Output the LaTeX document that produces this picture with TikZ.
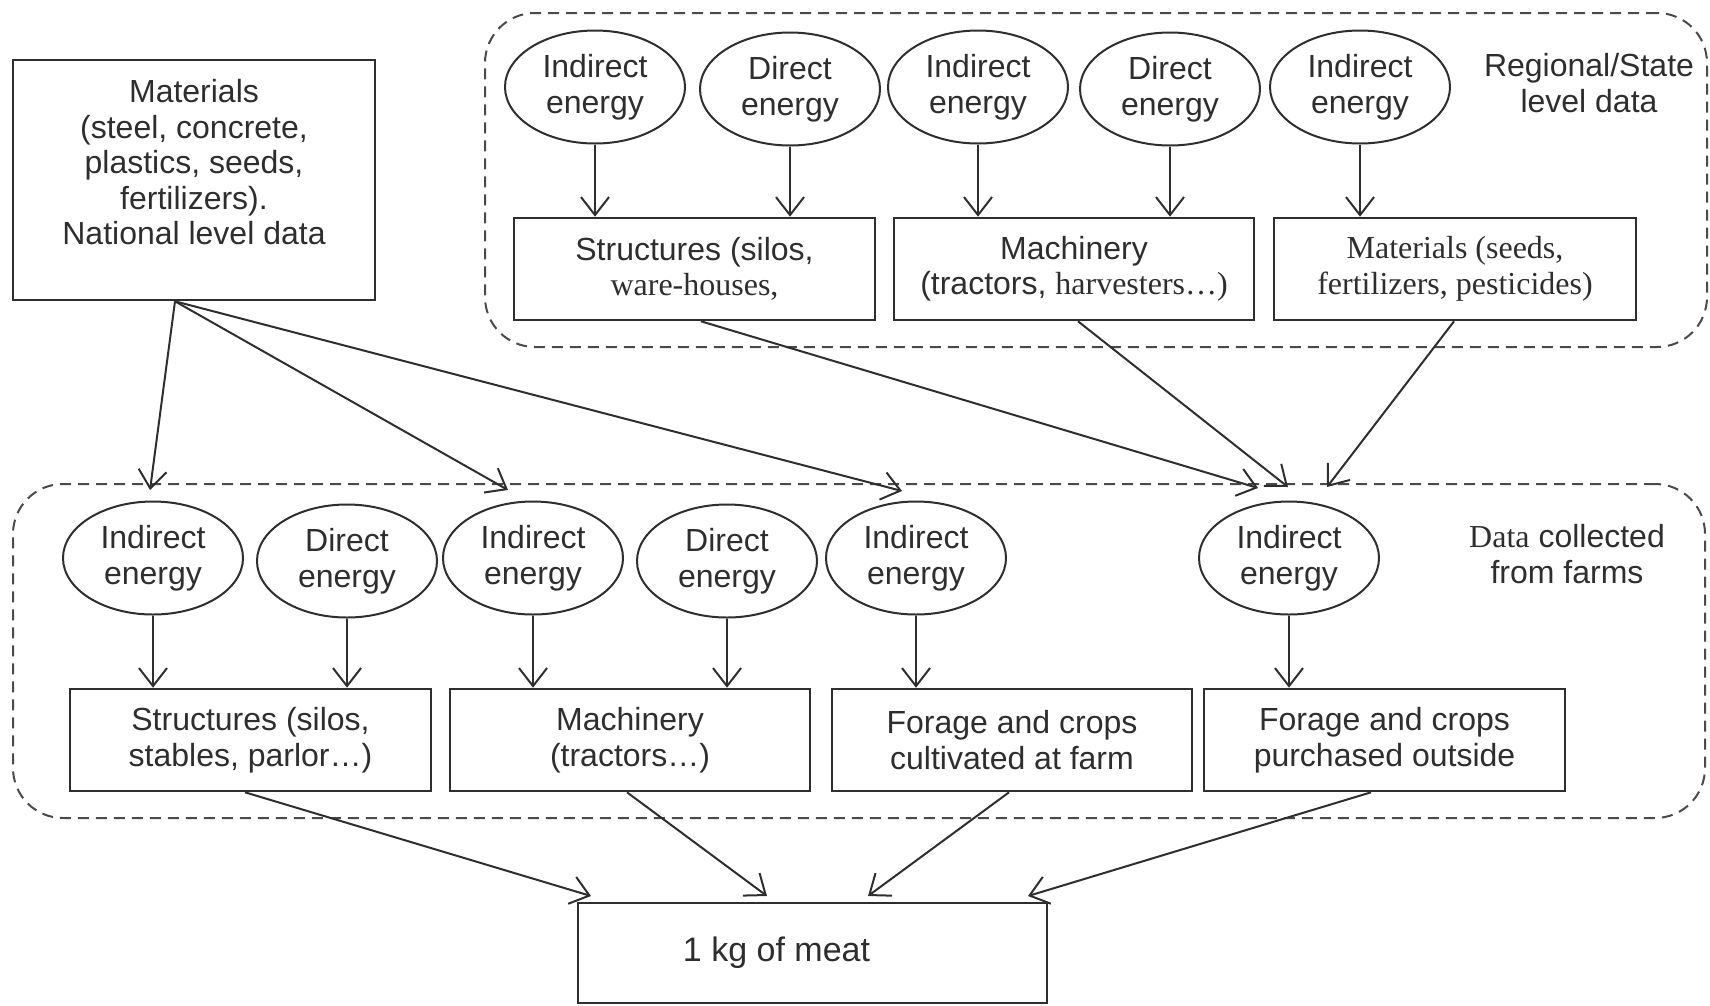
\documentclass[tikz,border=0pt]{standalone}
\usepackage{fontspec}
\setmainfont{Liberation Sans}
\newfontfamily\tnr{Liberation Serif}
\usetikzlibrary{shapes.geometric,arrows.meta}
\definecolor{ink}{HTML}{2E2E2E}
\definecolor{dashc}{HTML}{4A4A4A}
\tikzset{
  base/.style={font=\fontsize{32}{35.5}\selectfont, text=ink},
  energy/.style={base, draw=ink, line width=2pt, ellipse, minimum width=180pt, minimum height=113pt, inner sep=0pt, align=center},
  boxn/.style={base, draw=ink, line width=2.6pt, rectangle, inner sep=0pt, align=center},
  region/.style={draw=dashc, line width=2pt, dash pattern=on 11pt off 7pt, rounded corners=50pt, rectangle, inner sep=0pt},
  arr/.style={draw=ink, line width=2pt, -{Straight Barb[length=18pt,width=28pt]}},
  lbl/.style={base, align=center, inner sep=0pt}
}
\begin{document}
\begin{tikzpicture}[x=1pt,y=-1pt]
\useasboundingbox (0,0) rectangle (1710,1005);
% regions
\node[region, minimum width=1222pt, minimum height=334pt] (topreg) at (1096,180) {};
\node[region, minimum width=1692pt, minimum height=334pt] (botreg) at (859,651) {};
% national materials box
\node[boxn, minimum width=362pt, minimum height=240pt] (mat) at (194,180)
  {Materials\\(steel, concrete,\\plastics, seeds,\\fertilizers).\\National level data\\\mbox{}};
% top ellipses
\node[energy] (te1) at (595,87) {Indirect\\energy};
\node[energy] (te2) at (790,89) {Direct\\energy};
\node[energy] (te3) at (978,87) {Indirect\\energy};
\node[energy] (te4) at (1170,89) {Direct\\energy};
\node[energy] (te5) at (1360,87) {Indirect\\energy};
\node[lbl] (reglbl) at (1589,83) {Regional/State\\level data};
% top boxes
\node[boxn, minimum width=361pt, minimum height=102pt] (tb1) at (694.5,269) {Structures (silos,\\{\tnr ware-houses,}};
\node[boxn, minimum width=360pt, minimum height=102pt] (tb2) at (1074,269) {Machinery\\(tractors, {\tnr harvesters\ldots)}};
\node[boxn, minimum width=362pt, minimum height=102pt] (tb3) at (1455,269) {{\tnr Materials (seeds,}\\{\tnr fertilizers, pesticides)}};
% bottom ellipses
\node[energy] (be1) at (153,558) {Indirect\\energy};
\node[energy] (be2) at (347,561) {Direct\\energy};
\node[energy] (be3) at (533,558) {Indirect\\energy};
\node[energy] (be4) at (727,561) {Direct\\energy};
\node[energy] (be5) at (916,558) {Indirect\\energy};
\node[energy] (be6) at (1289,558) {Indirect\\energy};
\node[lbl] (farmlbl) at (1567,554) {{\tnr Data} collected\\from farms};
% bottom boxes
\node[boxn, minimum width=361pt, minimum height=102pt] (bb1) at (250.5,740) {Structures (silos,\\stables, parlor\ldots)};
\node[boxn, minimum width=360pt, minimum height=102pt] (bb2) at (630,740) {Machinery\\(tractors\ldots)};
\node[boxn, minimum width=360pt, minimum height=102pt] (bb3) at (1012,740) {Forage and crops\\cultivated at farm};
\node[boxn, minimum width=361pt, minimum height=102pt] (bb4) at (1384.5,740) {Forage and crops\\purchased outside};
% meat
\node[boxn, minimum width=469pt, minimum height=100pt, font=\fontsize{34}{38}\selectfont] (meat) at (812.5,953) {1 kg of meat\hspace*{72pt}};
% tip coordinates
\coordinate (m1) at (150,490);
\coordinate (m2) at (508,490);
\coordinate (m3) at (902,491);
\coordinate (r1) at (1258,488);
\coordinate (r2) at (1288,487);
\coordinate (r3) at (1327,487);
\coordinate (k1) at (591,896);
\coordinate (k2) at (767,896);
\coordinate (k3) at (868,896);
\coordinate (k4) at (1028,896);
% vertical arrows
\foreach \e/\b in {te1/tb1, te2/tb1, te3/tb2, te4/tb2, te5/tb3, be1/bb1, be2/bb1, be3/bb2, be4/bb2, be5/bb3, be6/bb4}
  \draw[arr] (\e.south) -- (\e.south |- \b.north);
% national arrows
\draw[arr] ([xshift=-19pt]mat.south) -- (m1);
\draw[arr] ([xshift=-19pt]mat.south) -- (m2);
\draw[arr] ([xshift=-19pt]mat.south) -- (m3);
% regional arrows
\draw[arr] ([xshift=6.5pt]tb1.south) -- (r1);
\draw[arr] ([xshift=4pt]tb2.south) -- (r2);
\draw[arr] ([xshift=-1pt]tb3.south) -- (r3);
% to meat
\draw[arr] ([xshift=-5.5pt]bb1.south) -- (k1);
\draw[arr] ([xshift=-3pt]bb2.south) -- (k2);
\draw[arr] ([xshift=-3pt]bb3.south) -- (k3);
\draw[arr] ([xshift=-13.5pt]bb4.south) -- (k4);
\end{tikzpicture}
\end{document}
